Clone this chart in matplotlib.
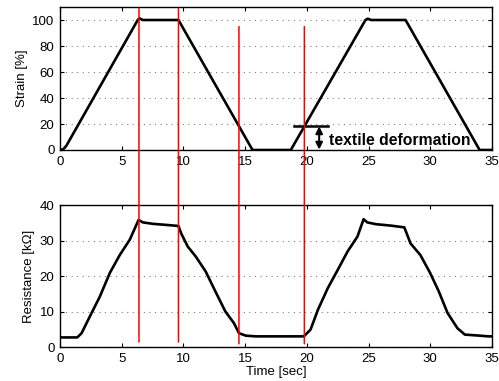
import numpy as np
import matplotlib.pyplot as plt
from matplotlib.patches import ConnectionPatch

# strain profile (time in s, strain in %)
strainT = [0, 0.25, 0.5, 6.3, 6.45, 6.7, 9.6, 15.6, 18.7, 24.75, 24.95, 25.2, 28.0, 34.0, 35]
strainV = [0, 0.5, 3, 100, 101.3, 100, 100, 0, 0, 100, 101, 100, 100, 0, 0]

# measured resistance (time in s, kOhm)
resT = [0, 1.4, 1.75, 2.42, 3.23, 4.03, 4.84, 5.65, 6.37, 6.72, 7.53, 8.6, 9.6, 9.82,
        10.35, 11.0, 11.8, 12.6, 13.4, 14.1, 14.5, 15.06, 15.86, 19.76, 20.3, 20.9,
        21.7, 22.5, 23.3, 24.1, 24.6, 24.9, 25.6, 26.8, 27.9, 28.4, 29.2, 30.0, 30.7,
        31.4, 32.2, 32.8, 34.0, 34.7, 35]
resV = [2.7, 2.7, 3.9, 8.6, 14.2, 20.8, 25.9, 30.2, 35.8, 35.1, 34.7, 34.4, 34.1, 32.0,
        28.3, 25.5, 21.3, 15.6, 10.0, 6.7, 3.9, 3.2, 3.0, 3.0, 4.9, 10.5,
        16.6, 21.7, 26.9, 31.1, 36.0, 35.1, 34.6, 34.2, 33.7, 29.2, 25.9, 20.8, 15.6,
        9.6, 5.3, 3.5, 3.2, 3.0, 3.0]

# event markers: (time, top in strain axis, bottom in resistance axis)
markT = [6.4, 9.6, 14.5, 19.8]
markTop = [109, 109, 95, 95]
markBot = [1.4, 1.4, 0.9, 0.9]

plt.rcParams['font.family'] = ['Liberation Sans', 'DejaVu Sans']
plt.rcParams['font.size'] = 9.5

fig = plt.figure(figsize=(4.99, 3.81), dpi=100)
ax1 = fig.add_axes([0.1202, 0.6063, 0.8657, 0.3753])
ax2 = fig.add_axes([0.1202, 0.0892, 0.8657, 0.3727])

for ax in (ax1, ax2):
    ax.set_xlim(0, 35)
    ax.set_xticks(np.arange(0, 36, 5))
    ax.tick_params(direction='in', top=True, right=True, length=3, pad=4)
    ax.grid(axis='y', linestyle=(0, (1, 4)), color='gray', linewidth=0.8)
    for s in ax.spines.values():
        s.set_linewidth(1.0)

ax1.plot(strainT, strainV, color='black', linewidth=1.9)
ax1.set_ylim(0, 110)
ax1.set_yticks(np.arange(0, 101, 20))
ax1.set_ylabel('Strain [%]', labelpad=3)

# textile deformation annotation
ax1.plot([19.0, 21.7], [18.5, 18.5], color='black', linewidth=1.8)
ax1.annotate('', xy=(21.0, 0.3), xytext=(21.0, 18.2),
             arrowprops=dict(arrowstyle='<|-|>', color='black', lw=1.5,
                             mutation_scale=10, shrinkA=0, shrinkB=0))
ax1.text(21.8, 7, 'textile deformation', fontsize=11.3, fontweight='bold',
         va='center', ha='left')

ax2.plot(resT, resV, color='black', linewidth=1.9)
ax2.set_ylim(0, 40)
ax2.set_yticks(np.arange(0, 41, 10))
ax2.set_ylabel('Resistance [kΩ]', labelpad=3)
ax2.set_xlabel('Time [sec]', labelpad=1)

for t, yt, yb in zip(markT, markTop, markBot):
    con = ConnectionPatch(xyA=(t, yt), coordsA='data', axesA=ax1,
                          xyB=(t, yb), coordsB='data', axesB=ax2,
                          color='red', linewidth=1.1, zorder=5)
    fig.add_artist(con)

fig.savefig('out.png', dpi=100)
